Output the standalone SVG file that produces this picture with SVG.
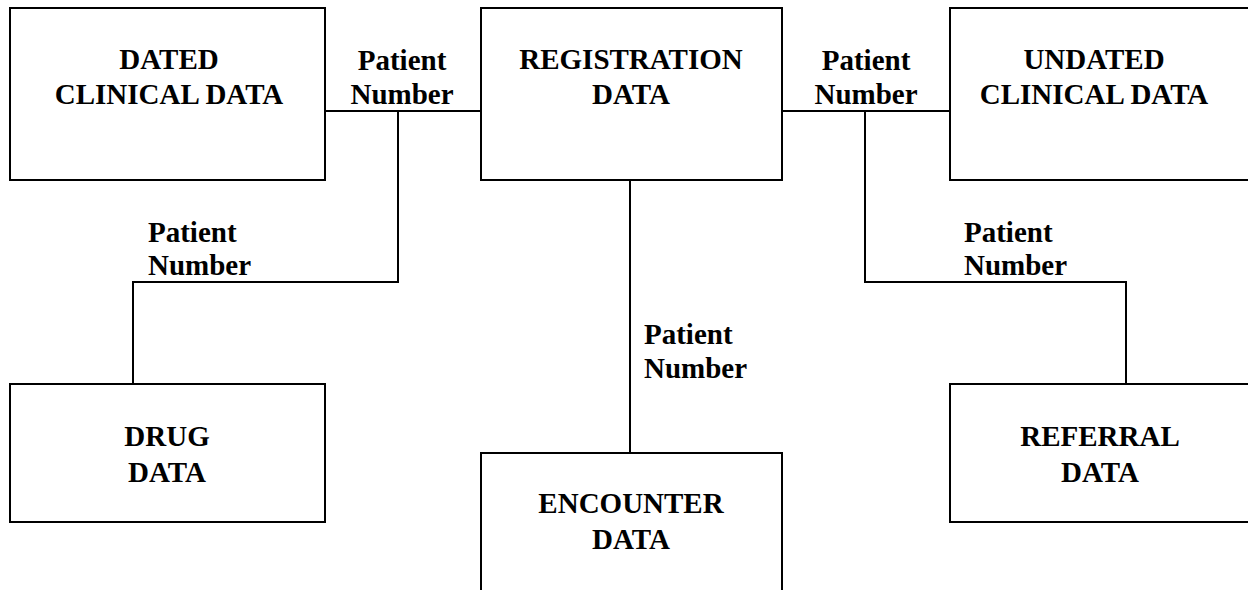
<svg xmlns="http://www.w3.org/2000/svg" width="1248" height="590" viewBox="0 0 1248 590">
<style>
.box{fill:#fff;stroke:#000;stroke-width:2}
.ln{fill:none;stroke:#000;stroke-width:2}
text{font-family:"Liberation Serif","Times New Roman",serif;font-weight:bold;font-size:29px;fill:#000}
.c{text-anchor:middle}
</style>
<rect width="1248" height="590" fill="#fff"/>
<g id="connectors">
<polyline class="ln" points="325,111 481,111"/>
<polyline class="ln" points="398,111 398,282 133,282 133,384"/>
<polyline class="ln" points="782,111 950,111"/>
<polyline class="ln" points="865,111 865,282 1126,282 1126,384"/>
<polyline class="ln" points="630,180 630,453"/>
<text class="c" x="402" y="70">Patient</text>
<text class="c" x="402" y="104">Number</text>
<text class="c" x="866" y="70">Patient</text>
<text class="c" x="866" y="104">Number</text>
<text x="148" y="242">Patient</text>
<text x="148" y="275">Number</text>
<text x="964" y="242">Patient</text>
<text x="964" y="275">Number</text>
<text x="644" y="344">Patient</text>
<text x="644" y="378">Number</text>
</g>
<g id="dated">
<rect class="box" x="10" y="8" width="315" height="172"/>
<text class="c" x="169" y="69">DATED</text>
<text class="c" x="169" y="104">CLINICAL DATA</text>
</g>
<g id="registration">
<rect class="box" x="481" y="8" width="301" height="172"/>
<text class="c" x="631" y="69">REGISTRATION</text>
<text class="c" x="631" y="104">DATA</text>
</g>
<g id="undated">
<rect class="box" x="950" y="8" width="310" height="172"/>
<text class="c" x="1094" y="69">UNDATED</text>
<text class="c" x="1094" y="104">CLINICAL DATA</text>
</g>
<g id="drug">
<rect class="box" x="10" y="384" width="315" height="138"/>
<text class="c" x="167" y="446">DRUG</text>
<text class="c" x="167" y="482">DATA</text>
</g>
<g id="encounter">
<rect class="box" x="481" y="453" width="301" height="150"/>
<text class="c" x="631" y="513">ENCOUNTER</text>
<text class="c" x="631" y="549">DATA</text>
</g>
<g id="referral">
<rect class="box" x="950" y="384" width="310" height="138"/>
<text class="c" x="1100" y="446">REFERRAL</text>
<text class="c" x="1100" y="482">DATA</text>
</g>
</svg>
